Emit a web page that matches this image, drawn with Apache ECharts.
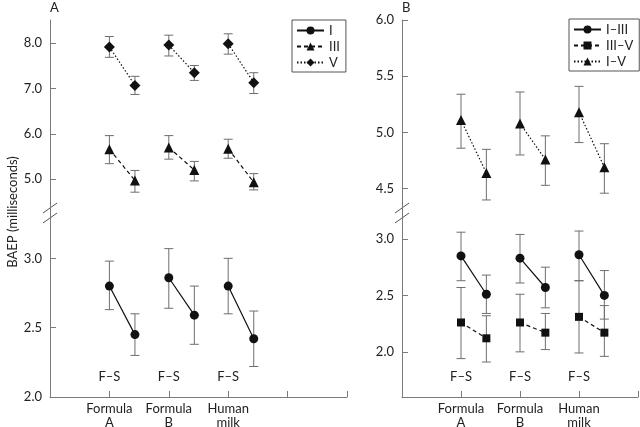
<!DOCTYPE html>
<html>
<head>
<meta charset="utf-8">
<script src="https://cdn.jsdelivr.net/npm/echarts@6/dist/echarts.min.js"></script>
<style>html,body{margin:0;padding:0;background:#fff}#c{width:640px;height:427px}</style>
</head>
<body>
<div id="c"></div>
<script>
// ---- data ----
const groups = ['Formula\nA', 'Formula\nB', 'Human\nmilk'];
const compLabel = 'F–S';
const legendA = ['I', 'III', 'V'];
const legendB = ['I–III', 'III–V', 'I–V'];
const ticksAUpper = [5.0, 6.0, 7.0, 8.0];
const ticksALower = [2.0, 2.5, 3.0];
const ticksBUpper = [4.5, 5.0, 5.5, 6.0];
const ticksBLower = [2.0, 2.5, 3.0];

// each row: [F, S] per group
const A_I_mean = [[2.80, 2.45], [2.86, 2.59], [2.80, 2.42]];
const A_I_lo   = [[2.63, 2.30], [2.64, 2.38], [2.60, 2.22]];
const A_I_hi   = [[2.98, 2.60], [3.07, 2.80], [3.00, 2.62]];

const A_III_mean = [[5.66, 4.97], [5.70, 5.20], [5.67, 4.93]];
const A_III_lo   = [[5.34, 4.71], [5.44, 4.96], [5.46, 4.76]];
const A_III_hi   = [[5.96, 5.19], [5.96, 5.39], [5.88, 5.12]];

const A_V_mean = [[7.92, 7.07], [7.96, 7.35], [7.99, 7.13]];
const A_V_lo   = [[7.69, 6.87], [7.72, 7.18], [7.76, 6.89]];
const A_V_hi   = [[8.15, 7.27], [8.18, 7.51], [8.21, 7.35]];

const B_I_III_mean = [[2.85, 2.51], [2.83, 2.57], [2.86, 2.50]];
const B_I_III_lo   = [[2.63, 2.34], [2.61, 2.39], [2.63, 2.29]];
const B_I_III_hi   = [[3.06, 2.68], [3.04, 2.75], [3.07, 2.72]];

const B_III_V_mean = [[2.26, 2.12], [2.26, 2.17], [2.31, 2.17]];
const B_III_V_lo   = [[1.94, 1.91], [2.00, 2.02], [1.99, 1.96]];
const B_III_V_hi   = [[2.57, 2.32], [2.51, 2.34], [2.63, 2.41]];

const B_I_V_mean = [[5.11, 4.64], [5.08, 4.76], [5.18, 4.69]];
const B_I_V_lo   = [[4.86, 4.40], [4.80, 4.53], [4.91, 4.46]];
const B_I_V_hi   = [[5.34, 4.85], [5.36, 4.97], [5.41, 4.90]];

// ---- layout / style ----
const S_OFF = 0.43;
const FONT = 'Lato, "Liberation Sans", sans-serif';
const FS = 13;
const AX = '#7a7a7a';
const TXT = '#222';
const ERR = '#6e6e6e';

function lineData(means) {
  const out = [];
  means.forEach((m, i) => {
    out.push([i + 1, m[0]]);
    out.push([i + 1 + S_OFF, m[1]]);
    out.push([i + 1 + S_OFF + 0.2, '-']);
  });
  return out;
}
function errData(lo, hi) {
  const out = [];
  lo.forEach((l, i) => {
    out.push([i + 1, l[0], hi[i][0]]);
    out.push([i + 1 + S_OFF, l[1], hi[i][1]]);
  });
  return out;
}
function renderErr(params, api) {
  const x = api.value(0), lo = api.value(1), hi = api.value(2);
  const a = api.coord([x, lo]), b = api.coord([x, hi]);
  const w = 4.5;
  const st = { stroke: ERR, lineWidth: 1 };
  return {
    type: 'group', children: [
      { type: 'line', shape: { x1: a[0], y1: a[1], x2: b[0], y2: b[1] }, style: st },
      { type: 'line', shape: { x1: a[0] - w, y1: a[1], x2: a[0] + w, y2: a[1] }, style: st },
      { type: 'line', shape: { x1: b[0] - w, y1: b[1], x2: b[0] + w, y2: b[1] }, style: st }
    ]
  };
}
function errSeries(xi, yi, lo, hi) {
  return {
    type: 'custom', xAxisIndex: xi, yAxisIndex: yi, z: 1, silent: true,
    renderItem: renderErr, encode: { x: 0, y: [1, 2] }, data: errData(lo, hi)
  };
}
function lineSeries(name, xi, yi, means, symbol, type, size) {
  return {
    name, type: 'line', xAxisIndex: xi, yAxisIndex: yi, z: 3,
    data: lineData(means), symbol, symbolSize: size, connectNulls: false,
    itemStyle: { color: '#111' },
    lineStyle: { color: '#111', width: 1.2, type },
    emphasis: { disabled: true }
  };
}
function yAx(gi, min, max, ticks) {
  return {
    type: 'value', gridIndex: gi, min, max,
    axisLine: { show: true, lineStyle: { color: AX, width: 1 } },
    axisTick: { show: true, inside: true, length: 6, customValues: ticks, lineStyle: { color: AX } },
    axisLabel: { customValues: ticks, formatter: v => v.toFixed(1), color: TXT, fontFamily: FONT, fontSize: FS, margin: 8 },
    splitLine: { show: false }
  };
}
function xHidden(gi, max) {
  return { type: 'value', gridIndex: gi, min: 0, max, show: false };
}
function xMain(gi, max) {
  return {
    type: 'value', gridIndex: gi, min: 0, max, interval: 1, position: 'bottom',
    axisLine: { show: true, onZero: false, lineStyle: { color: AX, width: 1 } },
    axisTick: { show: true, inside: true, length: 6, lineStyle: { color: AX } },
    axisLabel: {
      formatter: v => groups[v - 1] || '', color: TXT, fontFamily: FONT, fontSize: FS,
      lineHeight: 14, margin: 5, showMinLabel: true, showMaxLabel: true
    },
    splitLine: { show: false }
  };
}
function xComp(gi, max) {
  return {
    type: 'value', gridIndex: gi, min: 0, max, interval: 1, position: 'bottom',
    axisLine: { show: false, onZero: false }, axisTick: { show: false },
    axisLabel: {
      inside: true, margin: 14, formatter: v => (v >= 1 && v <= groups.length) ? compLabel : '',
      color: TXT, fontFamily: FONT, fontSize: FS
    },
    splitLine: { show: false }
  };
}
function legend(data, left, top) {
  return {
    data, orient: 'vertical', left, top,
    borderColor: '#555', borderWidth: 1, borderRadius: 0,
    padding: [4, 6, 3, 4], itemGap: 3, itemWidth: 27, itemHeight: 10,
    textStyle: { color: TXT, fontFamily: FONT, fontSize: FS },
    selectedMode: false
  };
}
function brk(x, y) {
  return { type: 'line', shape: { x1: x - 7, y1: y + 5, x2: x + 7, y2: y - 5 }, style: { stroke: '#555', lineWidth: 1 } };
}

const chart = echarts.init(document.getElementById('c'), null, { renderer: 'canvas' });
chart.setOption({
  animation: false,
  backgroundColor: '#fff',
  textStyle: { fontFamily: FONT },
  grid: [
    { left: 50, top: 20, width: 297, height: 193, outerBoundsMode: 'none' },
    { left: 50, top: 213, width: 297, height: 184, outerBoundsMode: 'none' },
    { left: 402, top: 20, width: 236, height: 193, outerBoundsMode: 'none' },
    { left: 402, top: 213, width: 236, height: 184, outerBoundsMode: 'none' }
  ],
  xAxis: [
    xHidden(0, 5), xMain(1, 5), xComp(1, 5),
    xHidden(2, 4), xMain(3, 4), xComp(3, 4)
  ],
  yAxis: [
    yAx(0, 4.25, 8.515, ticksAUpper),
    yAx(1, 2.0, 3.327, ticksALower),
    yAx(2, 4.284, 6.0, ticksBUpper),
    yAx(3, 1.6, 3.23, ticksBLower)
  ],
  legend: [legend(legendA, 292, 20), legend(legendB, 569, 19)],
  graphic: [
    { type: 'text', left: 50, top: 1, style: { text: 'A', fill: TXT, font: '13px ' + FONT } },
    { type: 'text', left: 402, top: 1, style: { text: 'B', fill: TXT, font: '13px ' + FONT } },
    { type: 'text', x: 13, y: 212, rotation: Math.PI / 2,
      style: { text: 'BAEP (milliseconds)', fill: TXT, font: '13px ' + FONT, align: 'center', verticalAlign: 'middle' } },
    brk(50, 208), brk(50, 218), brk(402, 208), brk(402, 218)
  ],
  series: [
    errSeries(1, 1, A_I_lo, A_I_hi),
    errSeries(0, 0, A_III_lo, A_III_hi),
    errSeries(0, 0, A_V_lo, A_V_hi),
    errSeries(4, 3, B_I_III_lo, B_I_III_hi),
    errSeries(4, 3, B_III_V_lo, B_III_V_hi),
    errSeries(3, 2, B_I_V_lo, B_I_V_hi),
    lineSeries('I', 1, 1, A_I_mean, 'circle', 'solid', 9),
    lineSeries('III', 0, 0, A_III_mean, 'triangle', [4, 3], 10),
    lineSeries('V', 0, 0, A_V_mean, 'diamond', [1.5, 2], 11),
    lineSeries('I–III', 4, 3, B_I_III_mean, 'circle', 'solid', 9),
    lineSeries('III–V', 4, 3, B_III_V_mean, 'rect', [4, 3], 8),
    lineSeries('I–V', 3, 2, B_I_V_mean, 'triangle', [1.5, 2], 10)
  ]
});
</script>
</body>
</html>
